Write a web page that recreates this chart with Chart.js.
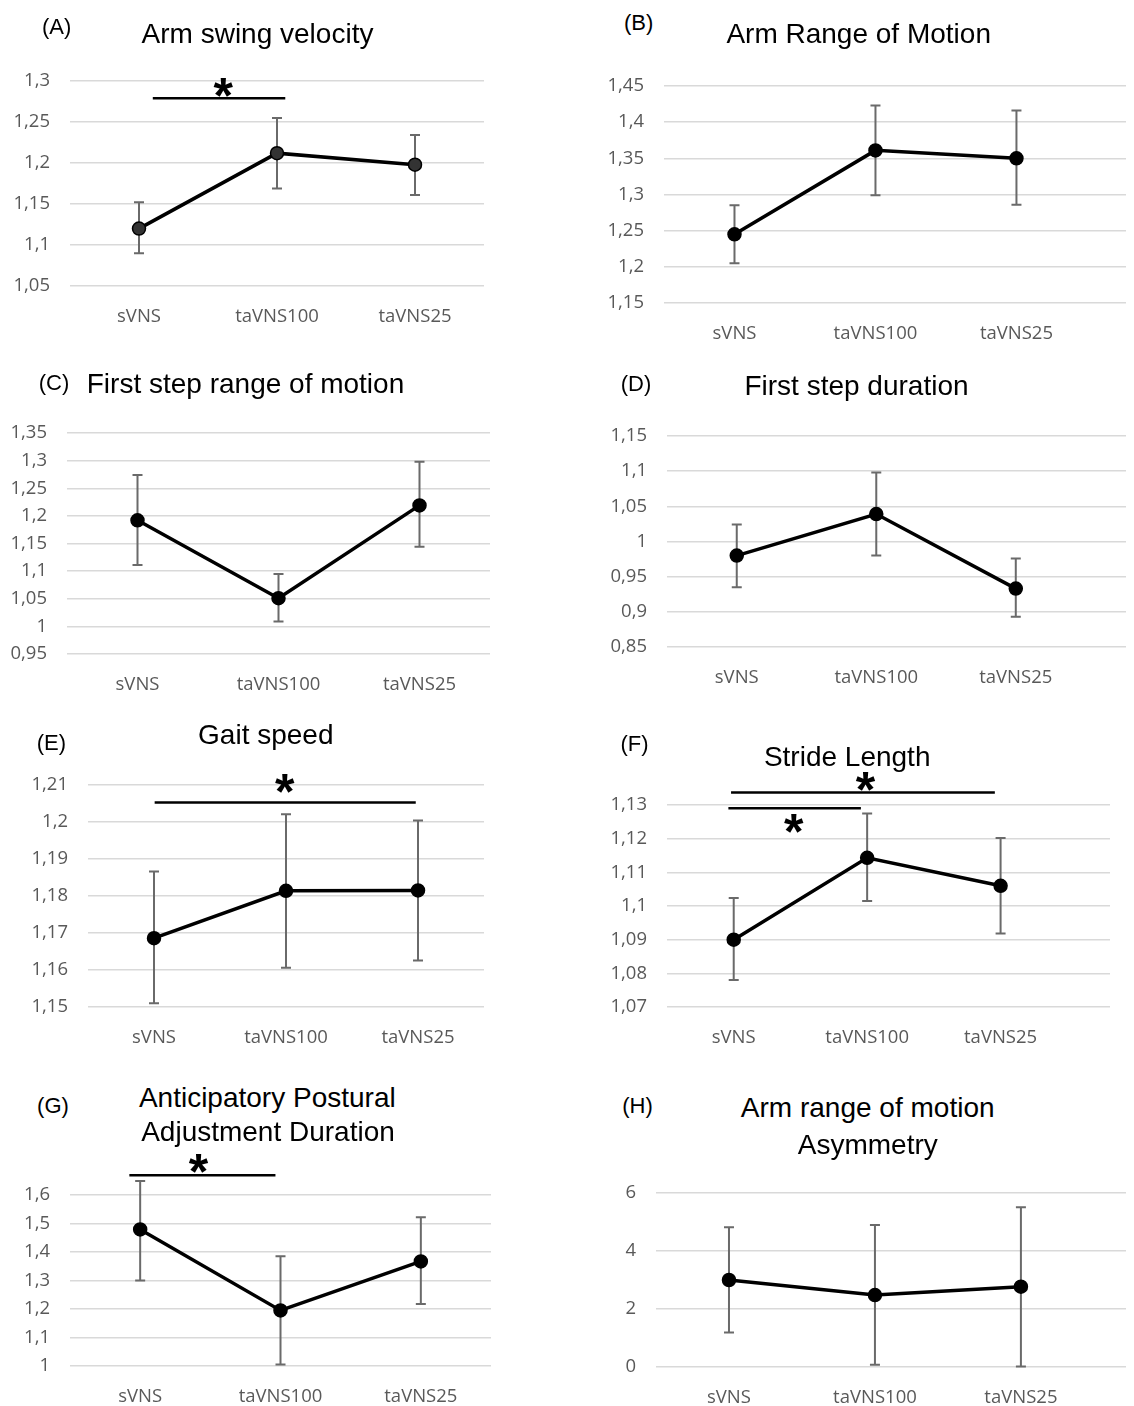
<!DOCTYPE html>
<html>
<head>
<meta charset="utf-8">
<title>sVNS vs taVNS - gait parameters</title>
<script src="https://cdn.jsdelivr.net/npm/chart.js@4.4.1/dist/chart.umd.min.js"></script>
<style>
  html, body { margin: 0; padding: 0; background: #fff; }
  body { position: relative; width: 1134px; height: 1406px; overflow: hidden; font-family: 'Liberation Sans', Arial, sans-serif; }
  .panel { position: absolute; }
  .title, .tag { position: absolute; transform: translate(-50%, -50%); white-space: nowrap; line-height: 1; color: #000; z-index: 2; }
  .title { font-size: 28px; }
  .tag { font-size: 22px; }
</style>
</head>
<body>
<script>
// Data (mean, lower / upper error bar)
const categories = ['sVNS', 'taVNS100', 'taVNS25'];

// (A) Arm swing velocity
const armSwingMean = [1.120, 1.212, 1.198];
const armSwingLow = [1.090, 1.169, 1.161];
const armSwingHigh = [1.152, 1.255, 1.234];
const armSwingTicks = [1.05, 1.1, 1.15, 1.2, 1.25, 1.3];
const armSwingSig = [{ from: 0.10, to: 1.06, y: 1.279, starX: 0.61, starY: 1.2924 }];

// (B) Arm Range of Motion
const armRomMean = [1.245, 1.361, 1.350];
const armRomLow = [1.205, 1.299, 1.286];
const armRomHigh = [1.285, 1.423, 1.416];
const armRomTicks = [1.15, 1.2, 1.25, 1.3, 1.35, 1.4, 1.45];

// (C) First step range of motion
const stepRomMean = [1.192, 1.051, 1.219];
const stepRomLow = [1.111, 1.009, 1.144];
const stepRomHigh = [1.274, 1.095, 1.298];
const stepRomTicks = [0.95, 1, 1.05, 1.1, 1.15, 1.2, 1.25, 1.3, 1.35];

// (D) First step duration
const stepDurMean = [0.980, 1.039, 0.933];
const stepDurLow = [0.935, 0.980, 0.893];
const stepDurHigh = [1.024, 1.098, 0.976];
const stepDurTicks = [0.85, 0.9, 0.95, 1, 1.05, 1.1, 1.15];

// (E) Gait speed
const gaitSpeedMean = [1.1686, 1.1814, 1.1815];
const gaitSpeedLow = [1.1510, 1.1606, 1.1626];
const gaitSpeedHigh = [1.1866, 1.2021, 1.2004];
const gaitSpeedTicks = [1.15, 1.16, 1.17, 1.18, 1.19, 1.2, 1.21];
const gaitSpeedSig = [{ from: 0.005, to: 1.983, y: 1.2053, starX: 0.99, starY: 1.2105 }];

// (F) Stride Length
const strideMean = [1.0900, 1.1143, 1.1060];
const strideLow = [1.0780, 1.1015, 1.0918];
const strideHigh = [1.1024, 1.1275, 1.1202];
const strideTicks = [1.07, 1.08, 1.09, 1.1, 1.11, 1.12, 1.13];
const strideSig = [
    { from: -0.02, to: 1.957, y: 1.1337, starX: 0.987, starY: 1.1369 },
    { from: -0.04, to: 0.953, y: 1.1290, starX: 0.449, starY: 1.1246 }
];

// (G) Anticipatory Postural Adjustment Duration
const apaMean = [1.479, 1.195, 1.367];
const apaLow = [1.300, 1.005, 1.2175];
const apaHigh = [1.649, 1.385, 1.522];
const apaTicks = [1, 1.1, 1.2, 1.3, 1.4, 1.5, 1.6];
const apaSig = [{ from: -0.077, to: 0.964, y: 1.669, starX: 0.415, starY: 1.711 }];

// (H) Arm range of motion Asymmetry
const asymMean = [3.00, 2.48, 2.77];
const asymLow = [1.19, 0.08, 0.02];
const asymHigh = [4.82, 4.90, 5.51];
const asymTicks = [0, 2, 4, 6];

// Layout of the panels on the page (plot area in page pixels)
const Y_AXIS_W = 70;
const X_AXIS_H = 60;
const PAD_TOP = 50;

const panels = [
    { tag: '(A)', tagPos: [56.7, 27], titles: [['Arm swing velocity', 257.5, 33.7]],
      area: { L: 70, R: 492, T: 81, B: 286 }, xMax: 2.5,
      mean: armSwingMean, low: armSwingLow, high: armSwingHigh, ticks: armSwingTicks, sig: armSwingSig, pointFill: '#333' },
    { tag: '(B)', tagPos: [638.7, 23.3], titles: [['Arm Range of Motion', 858.7, 34.2]],
      area: { L: 664, R: 1134, T: 85.7, B: 303.3 }, xMax: 2.777,
      mean: armRomMean, low: armRomLow, high: armRomHigh, ticks: armRomTicks, sig: [] },
    { tag: '(C)', tagPos: [54, 383.3], titles: [['First step range of motion', 245.5, 384]],
      area: { L: 67, R: 498, T: 432.7, B: 654 }, xMax: 2.5,
      mean: stepRomMean, low: stepRomLow, high: stepRomHigh, ticks: stepRomTicks, sig: [] },
    { tag: '(D)', tagPos: [636, 384], titles: [['First step duration', 856.5, 386.3]],
      area: { L: 667, R: 1134, T: 435.7, B: 647.3 }, xMax: 2.79,
      mean: stepDurMean, low: stepDurLow, high: stepDurHigh, ticks: stepDurTicks, sig: [] },
    { tag: '(E)', tagPos: [51.3, 743], titles: [['Gait speed', 265.8, 735]],
      area: { L: 88, R: 491.5, T: 785, B: 1006.7 }, xMax: 2.5,
      mean: gaitSpeedMean, low: gaitSpeedLow, high: gaitSpeedHigh, ticks: gaitSpeedTicks, sig: gaitSpeedSig },
    { tag: '(F)', tagPos: [634.5, 744], titles: [['Stride Length', 847.2, 756.7]],
      area: { L: 667, R: 1118, T: 805, B: 1007 }, xMax: 2.82,
      mean: strideMean, low: strideLow, high: strideHigh, ticks: strideTicks, sig: strideSig },
    { tag: '(G)', tagPos: [53, 1105.8], titles: [['Anticipatory Postural', 267.3, 1097.5], ['Adjustment Duration', 268, 1131.7]],
      area: { L: 70, R: 498.5, T: 1195, B: 1366.3 }, xMax: 2.5,
      mean: apaMean, low: apaLow, high: apaHigh, ticks: apaTicks, sig: apaSig },
    { tag: '(H)', tagPos: [637.5, 1105.8], titles: [['Arm range of motion', 867.7, 1108.3], ['Asymmetry', 867.8, 1145]],
      area: { L: 656, R: 1134, T: 1193.3, B: 1366.7 }, xMax: 2.72,
      mean: asymMean, low: asymLow, high: asymHigh, ticks: asymTicks, sig: [] }
];

// Error bars drawn under the line, through the chart scales
const errorBarsPlugin = {
    id: 'errorBars',
    beforeDatasetsDraw(chart) {
        const ds = chart.data.datasets[0];
        const xs = chart.scales.x, ys = chart.scales.y;
        const ctx = chart.ctx;
        ctx.save();
        ctx.strokeStyle = '#6a6a6a';
        ctx.lineWidth = 2;
        ds.low.forEach((lo, i) => {
            const px = xs.getPixelForValue(i);
            const top = ys.getPixelForValue(ds.high[i]);
            const bot = ys.getPixelForValue(lo);
            ctx.beginPath();
            ctx.moveTo(px, top); ctx.lineTo(px, bot);
            ctx.moveTo(px - 5, top); ctx.lineTo(px + 5, top);
            ctx.moveTo(px - 5, bot); ctx.lineTo(px + 5, bot);
            ctx.stroke();
        });
        ctx.restore();
    }
};

// Significance bars with asterisk
function significancePlugin(bars) {
    return {
        id: 'significance',
        afterDraw(chart) {
            const xs = chart.scales.x, ys = chart.scales.y;
            const ctx = chart.ctx;
            ctx.save();
            ctx.strokeStyle = '#000';
            ctx.fillStyle = '#000';
            ctx.lineWidth = 2.5;
            ctx.font = 'bold 50px "Liberation Sans", Arial, sans-serif';
            ctx.textAlign = 'center';
            ctx.textBaseline = 'alphabetic';
            bars.forEach(b => {
                const y = ys.getPixelForValue(b.y);
                ctx.beginPath();
                ctx.moveTo(xs.getPixelForValue(b.from), y);
                ctx.lineTo(xs.getPixelForValue(b.to), y);
                ctx.stroke();
                const m = ctx.measureText('*');
                const cy = ys.getPixelForValue(b.starY);
                const base = cy - (m.actualBoundingBoxDescent - m.actualBoundingBoxAscent) / 2;
                ctx.fillText('*', xs.getPixelForValue(b.starX), base);
            });
            ctx.restore();
        }
    };
}

function formatTick(v) {
    return String(v).replace('.', ',');
}

function createPanel(p) {
    const left = Math.round(p.area.L - Y_AXIS_W);
    const top = Math.round(p.area.T - PAD_TOP);
    const width = Math.round(p.area.R) - left;
    const height = Math.round(p.area.B + X_AXIS_H) - top;

    const box = document.createElement('div');
    box.className = 'panel';
    box.style.left = left + 'px';
    box.style.top = top + 'px';
    box.style.width = width + 'px';
    box.style.height = height + 'px';
    const canvas = document.createElement('canvas');
    box.appendChild(canvas);
    document.body.appendChild(box);

    const tag = document.createElement('div');
    tag.className = 'tag';
    tag.textContent = p.tag;
    tag.style.left = p.tagPos[0] + 'px';
    tag.style.top = p.tagPos[1] + 'px';
    document.body.appendChild(tag);

    p.titles.forEach(t => {
        const el = document.createElement('div');
        el.className = 'title';
        el.textContent = t[0];
        el.style.left = t[1] + 'px';
        el.style.top = t[2] + 'px';
        document.body.appendChild(el);
    });

    const tickFont = { family: "'Open Sans', 'DejaVu Sans', sans-serif", size: 18.5 };

    return new Chart(canvas, {
        type: 'line',
        data: {
            datasets: [{
                data: p.mean.map((v, i) => ({ x: i, y: v })),
                low: p.low,
                high: p.high,
                borderColor: '#000',
                borderWidth: 3.5,
                pointRadius: 6.5,
                pointBackgroundColor: p.pointFill || '#000',
                pointBorderColor: '#000',
                pointBorderWidth: 1.5,
                tension: 0,
                clip: false
            }]
        },
        options: {
            responsive: true,
            maintainAspectRatio: false,
            animation: false,
            layout: { padding: { top: PAD_TOP, right: 0, bottom: 0, left: 0 } },
            plugins: {
                legend: { display: false },
                tooltip: { enabled: false },
                title: { display: false }
            },
            scales: {
                x: {
                    type: 'linear',
                    min: -0.5,
                    max: p.xMax,
                    afterBuildTicks: s => { s.ticks = categories.map((c, i) => ({ value: i })); },
                    afterFit: s => { s.height = X_AXIS_H; },
                    grid: { display: false, drawTicks: false },
                    border: { display: false },
                    ticks: {
                        callback: v => categories[v],
                        color: '#595959',
                        font: tickFont,
                        padding: 20,
                        maxRotation: 0,
                        autoSkip: false
                    }
                },
                y: {
                    min: p.ticks[0],
                    max: p.ticks[p.ticks.length - 1],
                    afterBuildTicks: s => { s.ticks = p.ticks.map(v => ({ value: v })); },
                    afterFit: s => { s.width = Y_AXIS_W; },
                    grid: { color: '#d9d9d9', lineWidth: 1.5, drawTicks: false },
                    border: { display: false },
                    ticks: {
                        callback: v => formatTick(v),
                        color: '#595959',
                        font: tickFont,
                        padding: 20
                    }
                }
            }
        },
        plugins: [errorBarsPlugin, significancePlugin(p.sig)]
    });
}

panels.forEach(createPanel);
</script>
</body>
</html>
